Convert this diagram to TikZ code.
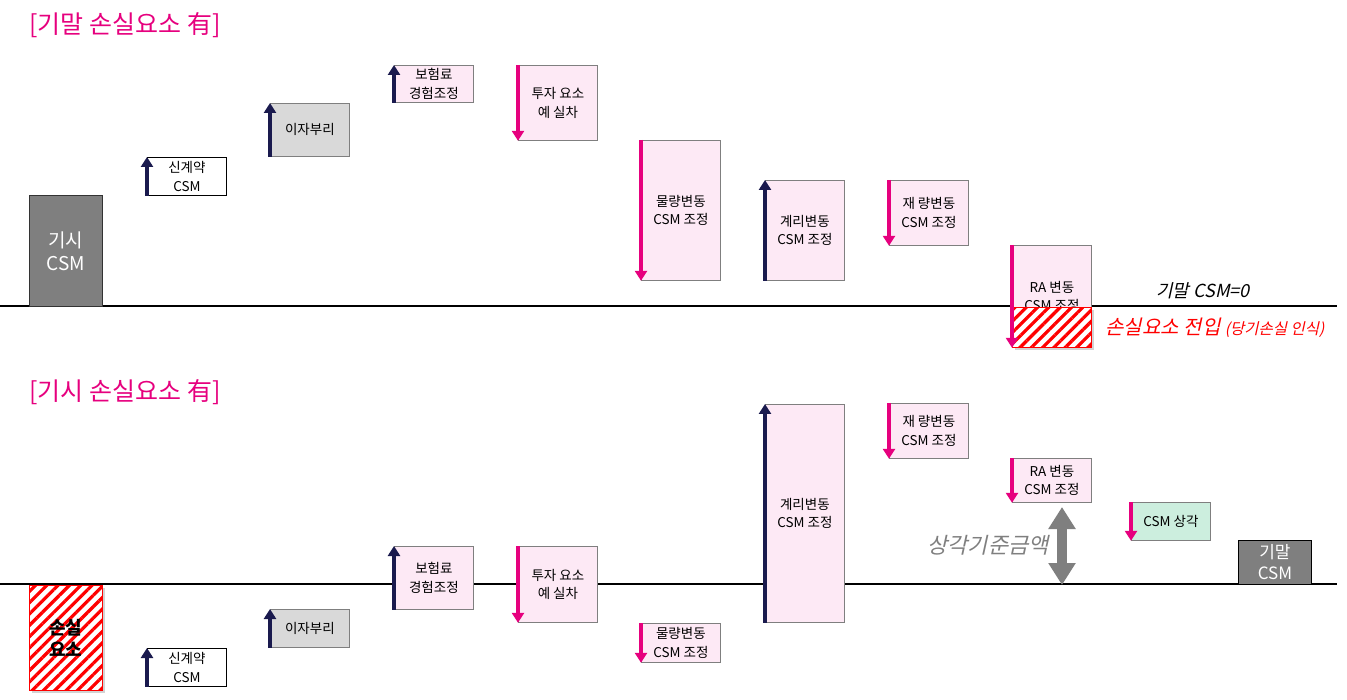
\documentclass[tikz,border=0pt]{standalone}
\usepackage{fontspec}
\setmainfont{Noto Sans CJK KR}
\newfontfamily\kslant[FakeSlant=0.22]{Noto Sans CJK KR}
\usetikzlibrary{arrows.meta, patterns.meta, shadows}
\definecolor{mag}{HTML}{E6007E}
\definecolor{navy}{HTML}{1A1A4E}
\definecolor{pk}{HTML}{FDE9F5}
\definecolor{lg}{HTML}{D9D9D9}
\definecolor{dg}{HTML}{7F7F7F}
\definecolor{mint}{HTML}{CCEEDE}
\definecolor{rd}{HTML}{FF0000}

\begin{document}
\begin{tikzpicture}[x=1pt, y=-1pt,
      b/.style={draw=dg, line width=0.8pt, anchor=north west, minimum width=79pt, inner sep=1pt, align=center, font=\fontsize{13.5}{18.5}\selectfont},
      up/.style={navy, line width=3.6pt, -{Triangle[width=12pt, length=10pt]}},
      dn/.style={mag, line width=3.6pt, -{Triangle[width=12pt, length=10pt]}},
      hatch/.style={draw=rd, line width=0.8pt, fill=white, anchor=north west, inner sep=0pt,
        drop shadow={shadow xshift=3pt, shadow yshift=-3pt, opacity=0.35},
        postaction={pattern={Lines[angle=45, distance=8pt, line width=3.2pt]}, pattern color=rd}},
      ttl/.style={mag, anchor=west, font=\fontsize{25}{29}\selectfont}
    ]
    \useasboundingbox (0,0) rectangle (1347,700);

    % top: loss component at the end
    \node[ttl] (h1) at (26,25) {[기말 손실요소 有]};
    \coordinate (l0) at (0,306);
    \coordinate (l1) at (1337,306);
    \draw[line width=2pt] (l0) -- (l1);

    \node[b, draw=black!80, fill=dg, text=white, minimum width=73pt, minimum height=111pt, font=\fontsize{19}{23}\selectfont] (t0) at (29,195) {기시\\CSM};
    \node[b, draw=black, fill=white, minimum height=38pt] (t1) at (147,157) {신계약\\CSM};
    \node[b, fill=lg, minimum height=53pt] (t2) at (270,103) {이자부리};
    \node[b, fill=pk, minimum height=37pt] (t3) at (394,65) {보험료\\경험조정};
    \node[b, fill=pk, minimum height=75pt] (t4) at (518,65) {투자 요소\\예 실차};
    \node[b, fill=pk, minimum height=140pt] (t5) at (641,140) {물량변동\\CSM 조정};
    \node[b, fill=pk, minimum height=100pt] (t6) at (765,180) {계리변동\\CSM 조정};
    \node[b, fill=pk, minimum height=65pt] (t7) at (889,180) {재 량변동\\CSM 조정};
    \node[b, fill=pk, minimum height=102pt] (t8) at (1012,245) {RA 변동\\CSM 조정};
    \node[hatch, minimum width=79pt, minimum height=40pt] (t9) at (1012,307) {};

    \node[font=\kslant\fontsize{18}{22}\selectfont] (t10) at (1203,291) {기말 CSM=0};
    \node[rd, anchor=west, font=\kslant\fontsize{20}{24}\selectfont] (t11) at (1102,328) {손실요소 전입 {\fontsize{15.5}{18}\selectfont(당기손실 인식)}};

    % bottom: loss component at the start
    \node[ttl] (h2) at (26,392) {[기시 손실요소 有]};
    \coordinate (l2) at (0,584);
    \coordinate (l3) at (1337,584);
    \draw[line width=2pt] (l2) -- (l3);

    \node[hatch, minimum width=73pt, minimum height=105pt, font=\bfseries\fontsize{18}{22}\selectfont, align=center] (b0) at (29,585) {손실\\요소};
    \node[b, draw=black, fill=white, minimum height=38pt] (b1) at (147,648) {신계약\\CSM};
    \node[b, fill=lg, minimum height=38pt] (b2) at (270,609) {이자부리};
    \node[b, fill=pk, minimum height=63pt] (b3) at (394,546) {보험료\\경험조정};
    \node[b, fill=pk, minimum height=76pt] (b4) at (518,546) {투자 요소\\예 실차};
    \node[b, fill=pk, minimum height=39pt] (b5) at (641,623) {물량변동\\CSM 조정};
    \node[b, fill=pk, minimum height=218pt] (b6) at (765,404) {계리변동\\CSM 조정};
    \node[b, fill=pk, minimum height=55pt] (b7) at (889,403) {재 량변동\\CSM 조정};
    \node[b, fill=pk, minimum height=44pt] (b8) at (1012,458) {RA 변동\\CSM 조정};
    \node[b, fill=mint, minimum height=38pt] (b9) at (1131,502) {CSM 상각};
    \node[b, draw=black, fill=dg, text=white, minimum width=73pt, minimum height=44pt, font=\fontsize{17}{21}\selectfont] (b10) at (1238,540) {기말\\CSM};

    \coordinate (a0) at (1062,507);
    \coordinate (a1) at (1062,585);
    \draw[dg, line width=10pt, {Triangle[width=26pt, length=22pt]}-{Triangle[width=26pt, length=22pt]}] (a0) -- (a1);
    \node[dg, font=\kslant\fontsize{22}{26}\selectfont] (b11) at (988,545) {상각기준금액};

    % arrows on the left edges
    \foreach \n in {t1, t2, t3, t6, b1, b2, b3, b6} {
      \draw[up] (\n.south west) -- (\n.north west);
    }
    \foreach \n in {t4, t5, t7, t8, b4, b5, b7, b8, b9} {
      \draw[dn] (\n.north west) -- (\n.south west);
    }
  \end{tikzpicture}
\end{document}
